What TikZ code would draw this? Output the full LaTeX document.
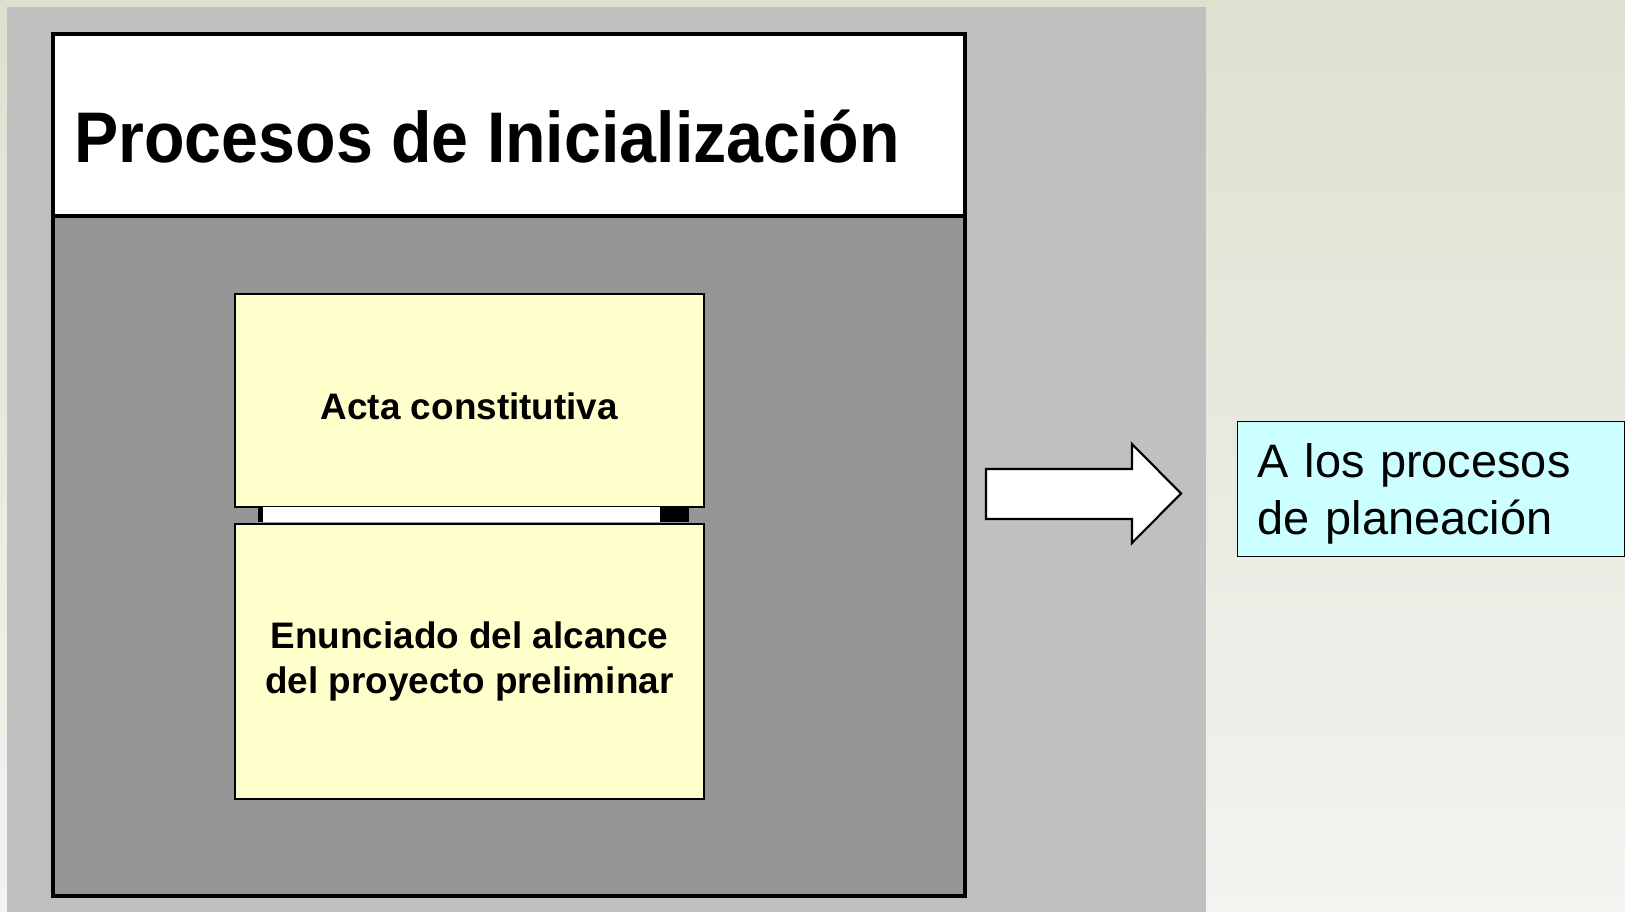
\documentclass[tikz,border=0pt]{standalone}
\usepackage{fontspec}
\setmainfont{Liberation Sans}
\usepackage{graphicx}
\usepackage{xcolor}
\usetikzlibrary{positioning}

\definecolor{bgTop}{HTML}{DEE1CF}
\definecolor{bgBottom}{HTML}{F3F3F1}
\definecolor{panelGray}{HTML}{C0C0C0}
\definecolor{bodyGray}{HTML}{969696}
\definecolor{notaYellow}{HTML}{FFFFCC}
\definecolor{planCyan}{HTML}{CCFFFF}

\begin{document}
\begin{tikzpicture}[x=0.02cm, y=-0.02cm, node distance=0.3cm,
        titulo/.style={rectangle, draw, line width=2.3pt, fill=white, outer sep=0pt, minimum width=18.24cm, minimum height=3.64cm},
        cuerpo/.style={rectangle, draw, line width=2.3pt, fill=bodyGray, outer sep=0pt, minimum width=18.24cm, minimum height=13.6cm},
        tarea/.style={rectangle, draw, line width=1.1pt, fill=notaYellow, minimum width=9.38cm, align=center, font=\fontsize{21}{25.5}\selectfont\bfseries},
        destino/.style={rectangle, draw, line width=0.8pt, fill=planCyan, minimum height=2.7cm, text width=6.94cm, inner xsep=0.4cm, align=left, font=\fontsize{26.7}{32.3}\selectfont},
        flecha/.style={draw, line width=1.2pt, fill=white, line join=miter}]
        \useasboundingbox (0,0) rectangle (1625,912);
        \shade[top color=bgTop, bottom color=bgBottom] (0,0) rectangle (1625,912);
        \fill[panelGray] (7,7) rectangle (1206,912);

        \node [titulo, anchor=north west] (banda) at (53,34) {};
        \node [cuerpo, anchor=north] (cuerpo) at (banda.south) {};
        \node [anchor=base west, inner sep=0pt, font=\fontsize{40.8}{48}\selectfont\bfseries] (titulo) at (74,163) {\scalebox{0.925}[1]{Procesos de Inicialización}};

        \node [tarea, minimum height=4.26cm, text height=0.78cm, anchor=north west] (acta) at (234,293) {Acta constitutiva};
        \node [tarea, minimum height=5.5cm, below=of acta] (alcance) {Enunciado del alcance\\del proyecto preliminar};
        % union entre las dos tareas
        \fill (258,507) rectangle (689,522);
        \fill[white] (263,507) rectangle (660,522);

        \node [destino, text depth=32.3pt, anchor=north west] (planea) at (1237,421) {A los procesos\\de planeación};

        \path [flecha] (986,469) -- (1132,469) -- (1132,444) -- (1181,493.5) -- (1132,543) -- (1132,519) -- (986,519) -- cycle;
    \end{tikzpicture}
\end{document}
